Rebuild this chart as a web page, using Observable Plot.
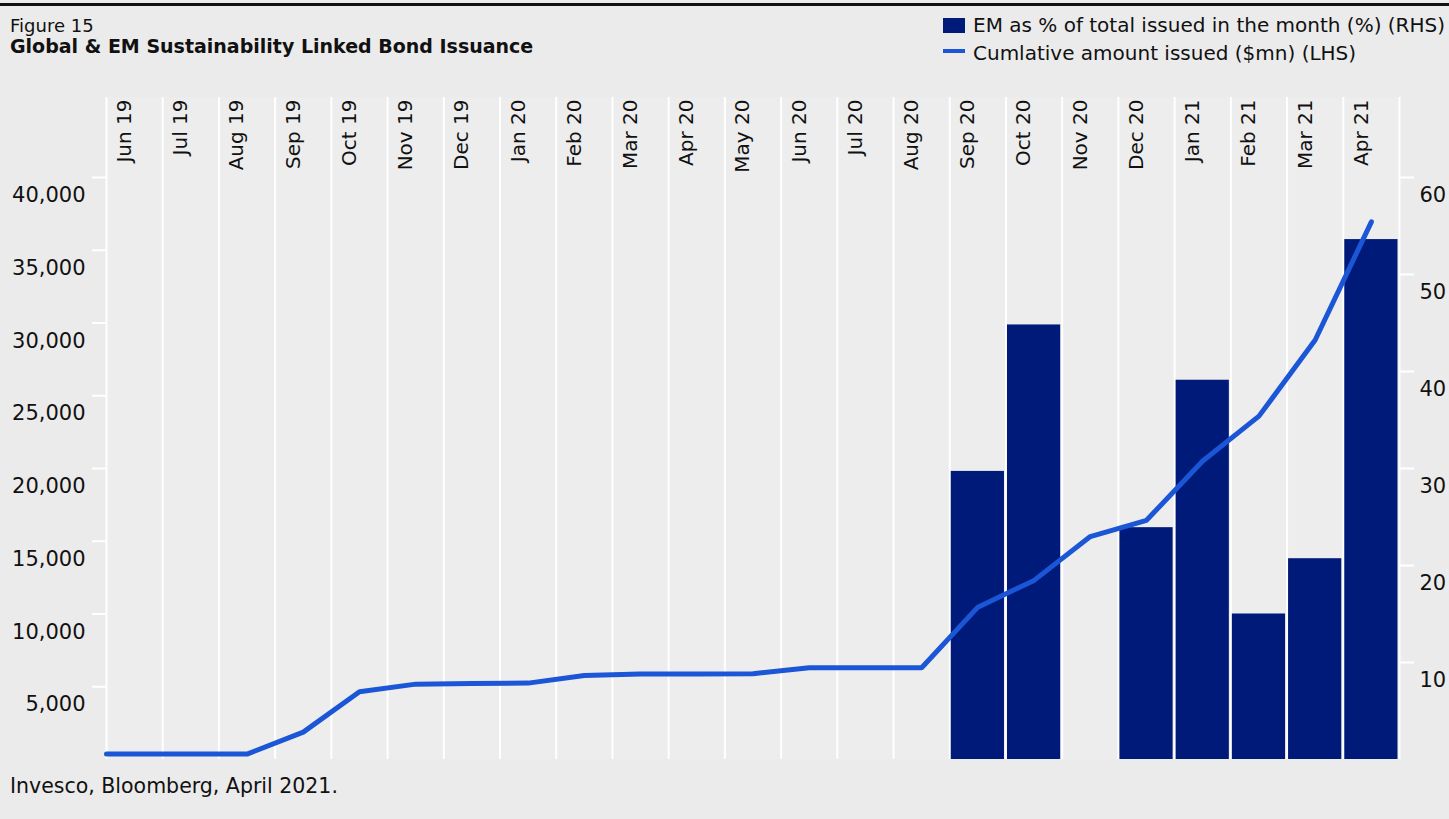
<!DOCTYPE html>
<html>
<head>
<meta charset="utf-8">
<script src="https://cdn.jsdelivr.net/npm/d3@7"></script>
<script src="https://cdn.jsdelivr.net/npm/@observablehq/plot@0.6"></script>
<style>
  html, body { margin: 0; padding: 0; background: #ebebeb; }
  body { width: 1449px; height: 819px; position: relative; overflow: hidden; font-family: "DejaVu Sans", sans-serif; color: #111; }
  .abs { position: absolute; line-height: 1; white-space: nowrap; }
  #topbar { position: absolute; left: 0; top: 3px; width: 1449px; height: 3px; background: #111; }
  #chart { position: absolute; left: 0; top: 0; }
  .swatch { position: absolute; }
</style>
</head>
<body>
<div id="topbar"></div>
<div class="abs" style="left:10px; top:17px; font-size:18px;">Figure 15</div>
<div class="abs" style="left:10px; top:37px; font-size:19px; font-weight:bold;">Global &amp; EM Sustainability Linked Bond Issuance</div>
<div class="swatch" style="left:943px; top:18px; width:22px; height:15px; background:#001a79;"></div>
<div class="abs" style="left:973px; top:15px; font-size:20px;">EM as % of total issued in the month (%) (RHS)</div>
<div class="swatch" style="left:943px; top:49px; width:22px; height:4px; background:#1a56d6;"></div>
<div class="abs" style="left:973px; top:43px; font-size:20px;">Cumlative amount issued ($mn) (LHS)</div>
<div id="chart"></div>
<div class="abs" style="left:10px; top:776px; font-size:20.5px;">Invesco, Bloomberg, April 2021.</div>
<script>
// ---- data ----
const months = ["Jun 19","Jul 19","Aug 19","Sep 19","Oct 19","Nov 19","Dec 19","Jan 20","Feb 20","Mar 20","Apr 20","May 20","Jun 20","Jul 20","Aug 20","Sep 20","Oct 20","Nov 20","Dec 20","Jan 21","Feb 21","Mar 21","Apr 21"];
// Cumulative amount issued ($mn) (LHS)
const cumulative = [370, 370, 370, 1880, 4650, 5180, 5230, 5250, 5780, 5870, 5870, 5890, 6310, 6310, 6310, 10470, 12310, 15320, 16440, 20520, 23600, 28830, 36950];
// EM as % of total issued in the month (%) (RHS)
const emPct = [null, null, null, null, null, null, null, null, null, null, null, null, null, null, null, 29.7, 44.8, 0, 23.9, 39.1, 15.0, 20.7, 53.6];
const leftTicks = [5000, 10000, 15000, 20000, 25000, 30000, 35000, 40000];
const rightTicks = [10, 20, 30, 40, 50, 60];
const leftMax = 40000, rightMax = 60;

// ---- derived tables ----
const k = leftMax / rightMax; // map RHS values onto LHS scale
const bars = months.map((m, i) => ({i, m, v: emPct[i]})).filter(d => d.v != null && d.v > 0);
const lineData = [{x: 0, y: cumulative[0]}].concat(cumulative.map((v, i) => ({x: i + 0.5, y: v})));
const bounds = d3.range(months.length + 1);
const labels = months.map((m, i) => ({x: i + 0.5, m}));

const chart = Plot.plot({
  width: 1449,
  height: 770,
  marginTop: 97,
  marginBottom: 11,
  marginLeft: 106,
  marginRight: 50,
  style: {background: "transparent", fontFamily: "DejaVu Sans, sans-serif", color: "#111"},
  x: {domain: [0, months.length], axis: null},
  y: {domain: [0, leftMax], range: [759, 177], axis: null},
  marks: [
    Plot.frame({fill: "#ededed", stroke: null}),
    Plot.ruleX(bounds, {x: d => d, stroke: "white", strokeWidth: 2}),
    Plot.rectY(bars, {x1: d => d.i, x2: d => d.i + 1, y: d => d.v * k, fill: "#001a79", insetLeft: 1.5, insetRight: 1.5}),
    Plot.line(lineData, {x: "x", y: "y", stroke: "#1a56d6", strokeWidth: 5, strokeLinejoin: "miter", curve: "linear"}),
    // month labels at the top
    Plot.text(labels, {x: "x", text: "m", frameAnchor: "top", rotate: -90, textAnchor: "end", lineAnchor: "middle", dx: -10, dy: 2, fontSize: 20, fill: "#111"}),
    // left axis
    Plot.axisY({anchor: "left", ticks: leftTicks, tickSize: 14, stroke: "white", strokeWidth: 2, tickFormat: () => "", label: null}),
    Plot.text(leftTicks, {y: d => d, text: d => d3.format(",")(d), frameAnchor: "left", textAnchor: "end", dx: -21, dy: 18, fontSize: 21, fill: "#111"}),
    // right axis
    Plot.axisY({anchor: "right", ticks: rightTicks.map(v => v * k), tickSize: 14, stroke: "white", strokeWidth: 2, tickFormat: () => "", label: null}),
    Plot.text(rightTicks, {y: d => d * k, text: d => String(d), frameAnchor: "right", textAnchor: "start", dx: 20, dy: 18, fontSize: 21, fill: "#111"})
  ]
});
document.getElementById("chart").appendChild(chart);
</script>
</body>
</html>
